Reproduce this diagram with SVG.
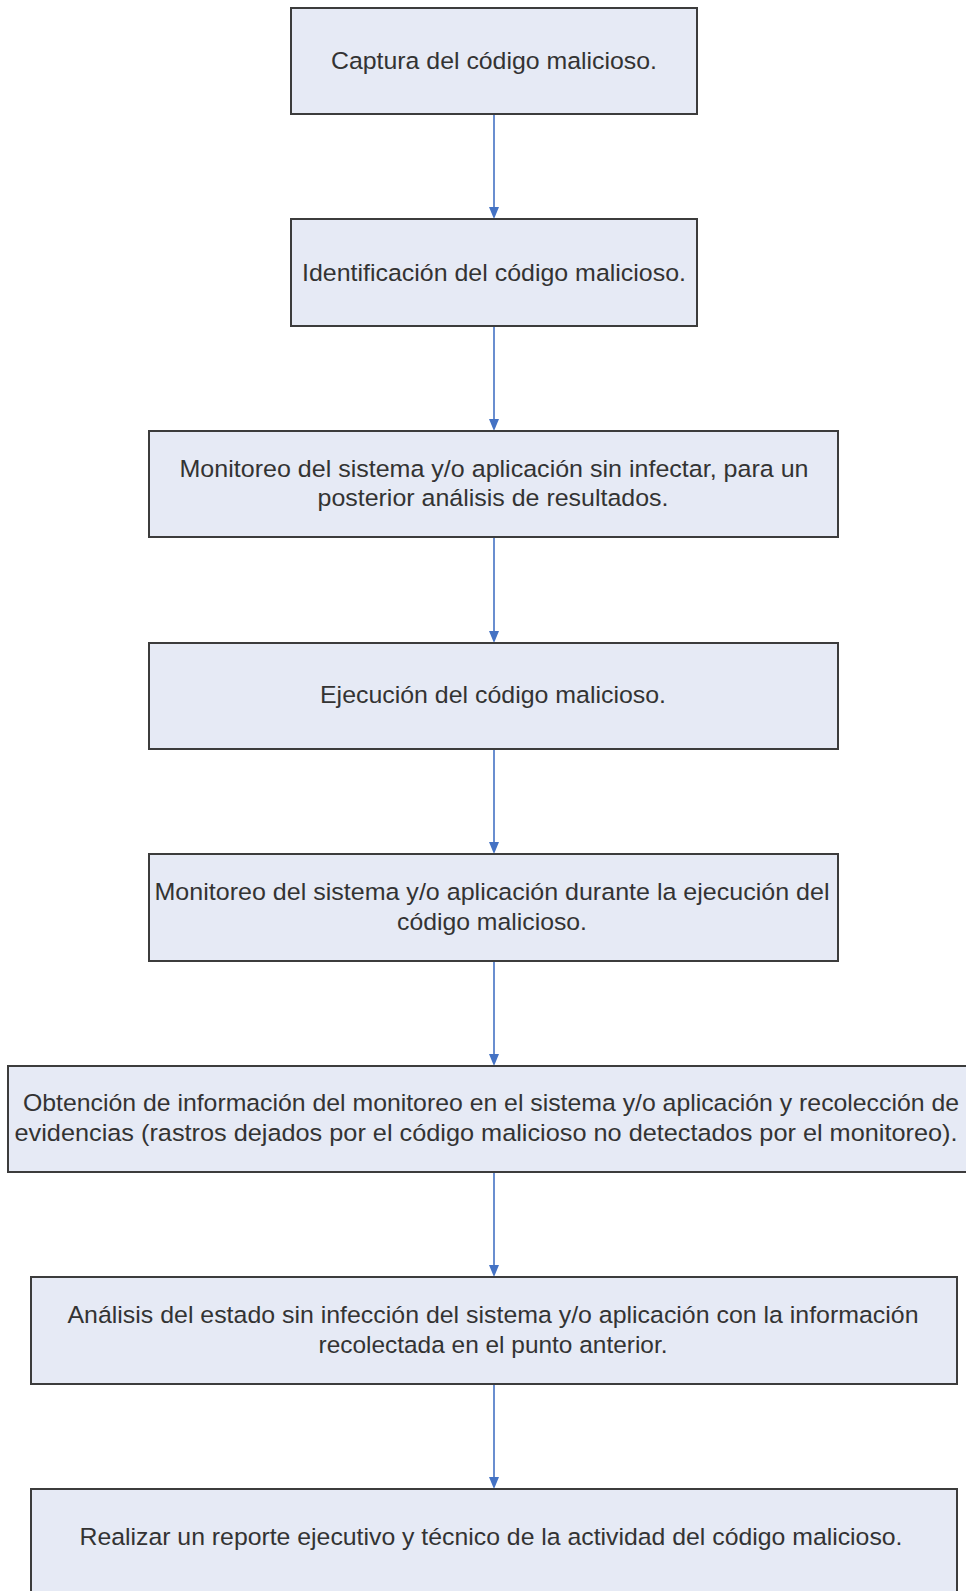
<svg xmlns="http://www.w3.org/2000/svg" width="966" height="1591" viewBox="0 0 966 1591">
  <style>
    .box { fill: #e6eaf5; stroke: #3c3c3c; stroke-width: 2; }
    .lbl { font-family: "Liberation Sans", Arial, sans-serif; font-size: 24.5px; fill: #333333; text-anchor: middle; }
    .conn { stroke: #4472c4; stroke-width: 1.6; fill: none; }
    .head { fill: #4472c4; }
  </style>

  <!-- connectors between steps -->
  <g id="connectors">
    <line class="conn" x1="494" y1="114" x2="494" y2="207"/>
    <path class="head" d="M489,207 L499,207 L494,219 Z"/>
    <line class="conn" x1="494" y1="326" x2="494" y2="419"/>
    <path class="head" d="M489,419 L499,419 L494,431 Z"/>
    <line class="conn" x1="494" y1="537" x2="494" y2="631"/>
    <path class="head" d="M489,631 L499,631 L494,643 Z"/>
    <line class="conn" x1="494" y1="749" x2="494" y2="842"/>
    <path class="head" d="M489,842 L499,842 L494,854 Z"/>
    <line class="conn" x1="494" y1="961" x2="494" y2="1054"/>
    <path class="head" d="M489,1054 L499,1054 L494,1066 Z"/>
    <line class="conn" x1="494" y1="1172" x2="494" y2="1265"/>
    <path class="head" d="M489,1265 L499,1265 L494,1277 Z"/>
    <line class="conn" x1="494" y1="1384" x2="494" y2="1477"/>
    <path class="head" d="M489,1477 L499,1477 L494,1489 Z"/>
  </g>

  <g id="step1">
    <rect class="box" x="291" y="8" width="406" height="106"/>
    <text class="lbl" x="494" y="69" textLength="326" lengthAdjust="spacingAndGlyphs">Captura del código malicioso.</text>
  </g>

  <g id="step2">
    <rect class="box" x="291" y="219" width="406" height="107"/>
    <text class="lbl" x="494" y="281" textLength="384" lengthAdjust="spacingAndGlyphs">Identificación del código malicioso.</text>
  </g>

  <g id="step3">
    <rect class="box" x="149" y="431" width="689" height="106"/>
    <text class="lbl" x="494" y="477" textLength="629" lengthAdjust="spacingAndGlyphs">Monitoreo del sistema y/o aplicación sin infectar, para un</text>
    <text class="lbl" x="493" y="506" textLength="351" lengthAdjust="spacingAndGlyphs">posterior análisis de resultados.</text>
  </g>

  <g id="step4">
    <rect class="box" x="149" y="643" width="689" height="106"/>
    <text class="lbl" x="493" y="703" textLength="346" lengthAdjust="spacingAndGlyphs">Ejecución del código malicioso.</text>
  </g>

  <g id="step5">
    <rect class="box" x="149" y="854" width="689" height="107"/>
    <text class="lbl" x="492" y="900" textLength="675" lengthAdjust="spacingAndGlyphs">Monitoreo del sistema y/o aplicación durante la ejecución del</text>
    <text class="lbl" x="492" y="930" textLength="190" lengthAdjust="spacingAndGlyphs">código malicioso.</text>
  </g>

  <g id="step6">
    <rect class="box" x="8" y="1066" width="972" height="106"/>
    <text class="lbl" x="491" y="1111" textLength="936" lengthAdjust="spacingAndGlyphs">Obtención de información del monitoreo en el sistema y/o aplicación y recolección de</text>
    <text class="lbl" x="486" y="1141" textLength="943" lengthAdjust="spacingAndGlyphs">evidencias (rastros dejados por el código malicioso no detectados por el monitoreo).</text>
  </g>

  <g id="step7">
    <rect class="box" x="31" y="1277" width="926" height="107"/>
    <text class="lbl" x="493" y="1323" textLength="851" lengthAdjust="spacingAndGlyphs">Análisis del estado sin infección del sistema y/o aplicación con la información</text>
    <text class="lbl" x="493" y="1353" textLength="349" lengthAdjust="spacingAndGlyphs">recolectada en el punto anterior.</text>
  </g>

  <g id="step8">
    <rect class="box" x="31" y="1489" width="926" height="110"/>
    <text class="lbl" x="491" y="1545" textLength="823" lengthAdjust="spacingAndGlyphs">Realizar un reporte ejecutivo y técnico de la actividad del código malicioso.</text>
  </g>
</svg>
